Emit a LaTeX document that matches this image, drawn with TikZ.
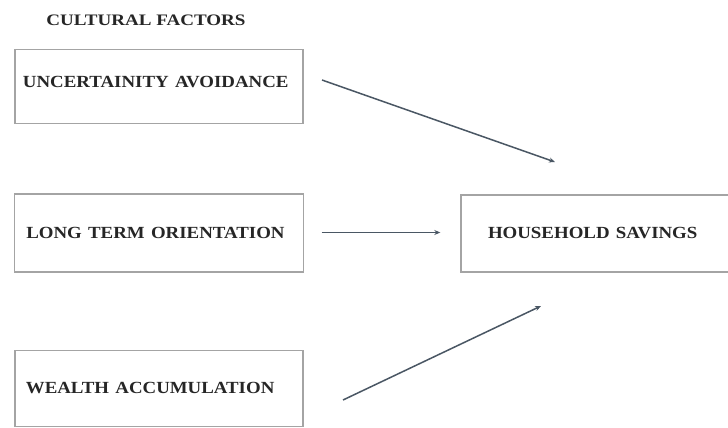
\documentclass[tikz,border=0pt]{standalone}
\usepackage{fontspec}
\usepackage{graphicx}
\setmainfont{Liberation Serif}
\usetikzlibrary{arrows.meta}
\definecolor{boxgray}{HTML}{A4A4A4}
\definecolor{arrowc}{HTML}{4A5764}
\definecolor{txt}{HTML}{262626}
\newcommand{\wide}[1]{\scalebox{1.11}[1]{#1}}
\tikzset{
  factor/.style={draw=boxgray, line width=1.4pt, rectangle, inner ysep=0pt,
    text=txt, font=\fontsize{17}{19}\bfseries\selectfont, align=left,
    text height=11.6pt},
  link/.style={draw=arrowc, line width=1.5pt, -{Stealth[length=6pt,width=5pt]}},
}
\begin{document}
\begin{tikzpicture}[x=1pt,y=-1pt]
\useasboundingbox (0,0) rectangle (728,428);
\clip (0,0) rectangle (728,428);
\fill[white] (0,0) rectangle (728,428);
\node[text=txt, font=\fontsize{16}{18}\bfseries\selectfont, inner sep=0pt] (title) at (146,20) {\scalebox{1.19}[1]{CULTURAL FACTORS}};
\node[factor, minimum width=288pt, minimum height=74pt, inner xsep=8pt, text width=272pt, text depth=9pt] (ua) at (159,86.4) {\wide{UNCERTAINITY AVOIDANCE}};
\node[factor, minimum width=289pt, minimum height=78pt, inner xsep=12pt, text width=265pt, text depth=1pt] (lto) at (158.8,233) {\wide{LONG TERM ORIENTATION}};
\node[factor, minimum width=288pt, minimum height=76pt, inner xsep=11pt, text width=266pt, text depth=2pt] (wa) at (158.9,388.5) {\wide{WEALTH ACCUMULATION}};
\node[factor, minimum width=299pt, minimum height=77pt, inner xsep=27pt, text width=245pt, text depth=2pt] (hs) at (610.5,233.5) {\wide{HOUSEHOLD SAVINGS}};
\coordinate (a1s) at (322,80);
\coordinate (a1e) at (555,162);
\coordinate (a3s) at (343,400);
\coordinate (a3e) at (541,306);
\draw[link] (a1s) -- (a1e);
\draw[link, shorten <=17.5pt, shorten >=20pt] (lto.east |- 0,232.5) -- (hs.west |- 0,232.5);
\draw[link] (a3s) -- (a3e);
\end{tikzpicture}
\end{document}
